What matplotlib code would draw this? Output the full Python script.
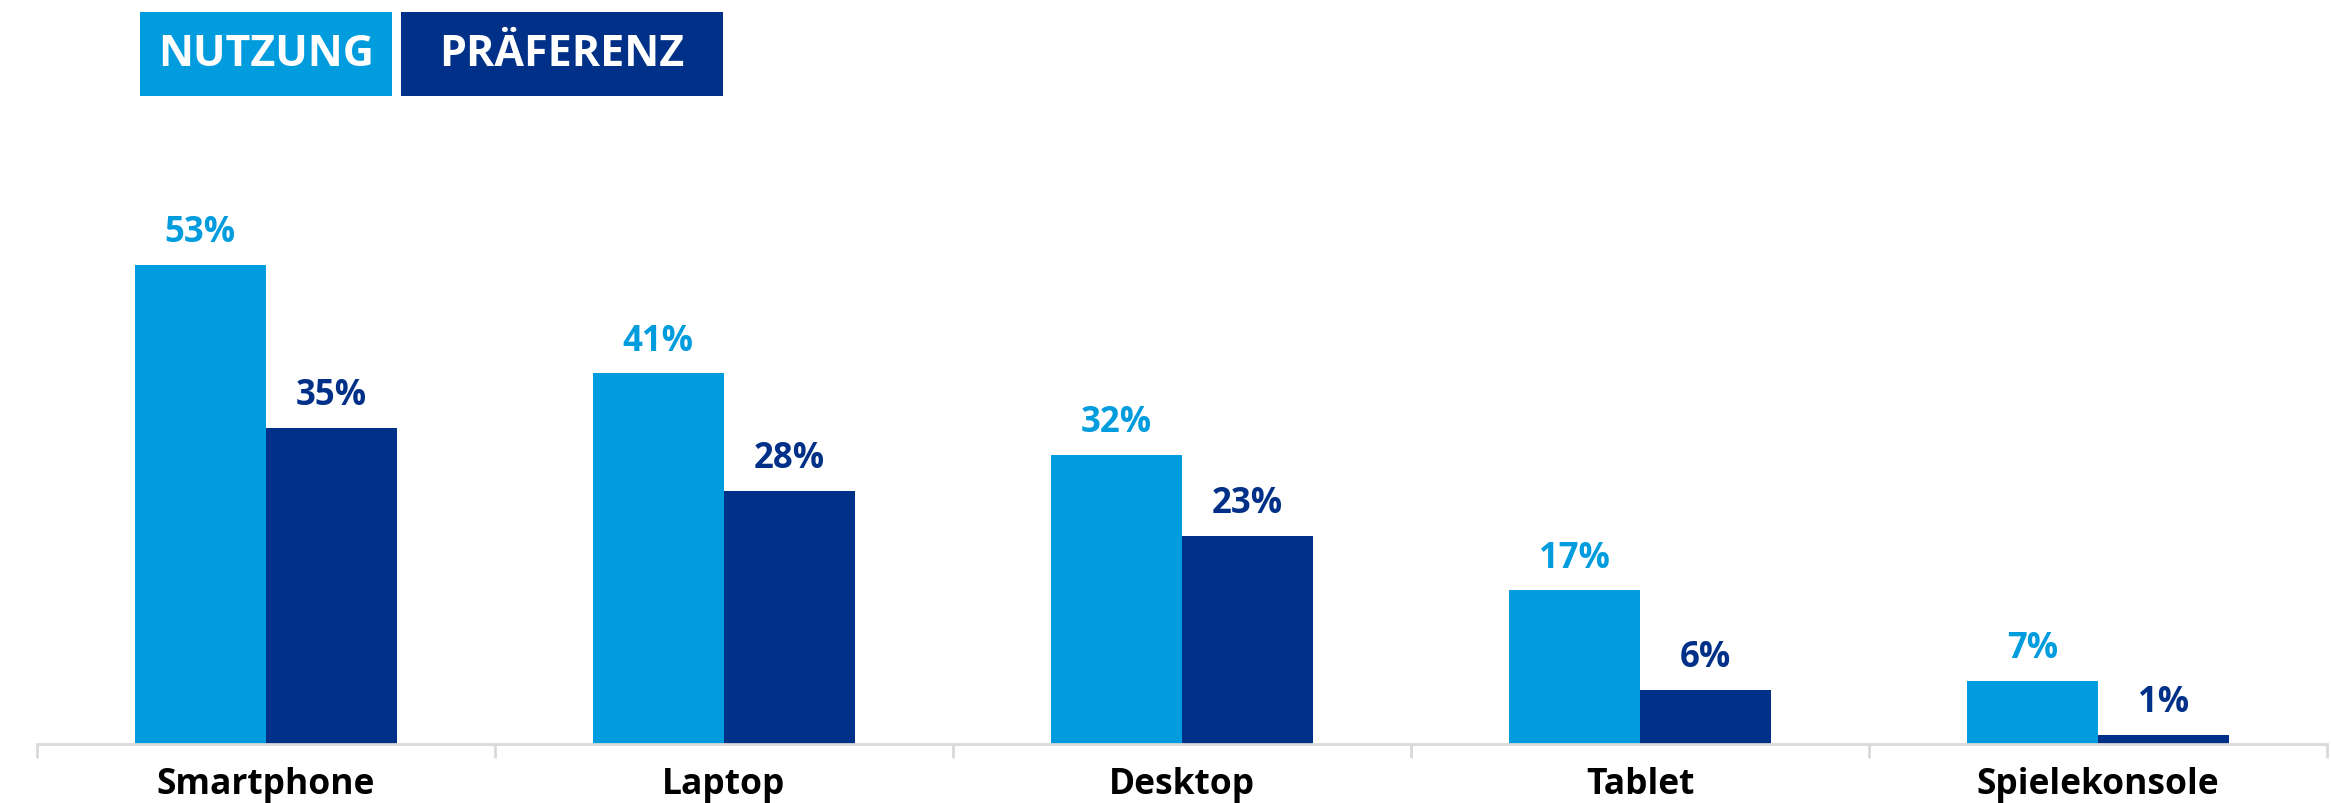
import matplotlib
matplotlib.use("Agg")
import matplotlib.pyplot as plt
from matplotlib.patches import Rectangle
import numpy as np

# Data
categories = ["Smartphone", "Laptop", "Desktop", "Tablet", "Spielekonsole"]
nutzung = [53, 41, 32, 17, 7]
praeferenz = [35, 28, 23, 6, 1]
series_names = ["NUTZUNG", "PRÄFERENZ"]

LIGHT = "#009cde"
DARK = "#003087"
AXIS_GREY = "#d9d9d9"
FONT = ["Open Sans", "DejaVu Sans"]

W, H, DPI = 2331, 804, 100
fig = plt.figure(figsize=(W / DPI, H / DPI), dpi=DPI)
ax = fig.add_axes([37 / W, (H - 745) / H, (2327 - 37) / W, 537 / H])

x = np.arange(len(categories))
bw = 0.287
bars1 = ax.bar(x - bw / 2, nutzung, width=bw, color=LIGHT, linewidth=0)
bars2 = ax.bar(x + bw / 2, praeferenz, width=bw, color=DARK, linewidth=0)

for bars, vals, col in ((bars1, nutzung, LIGHT), (bars2, praeferenz, DARK)):
    for b, v in zip(bars, vals):
        ax.annotate(f"{v}%", (b.get_x() + b.get_width() / 2, v),
                    xytext=(0, 10.5), textcoords="offset points",
                    ha="center", va="bottom", color=col,
                    fontsize=25, fontweight="bold", family=FONT)

ax.set_xlim(-0.5, len(categories) - 0.5)
ax.set_ylim(0, 59.4)
for s in ("top", "right", "left"):
    ax.spines[s].set_visible(False)
ax.spines["bottom"].set_color(AXIS_GREY)
ax.spines["bottom"].set_linewidth(2)
ax.set_yticks([])
ax.set_xticks(x)
ax.set_xticklabels(categories, fontsize=25.5, fontweight="bold", family=FONT)
ax.tick_params(axis="x", which="major", length=0, pad=16)
ax.set_xticks(np.arange(-0.5, len(categories)), minor=True)
ax.tick_params(axis="x", which="minor", length=10, width=2, color=AXIS_GREY)

# Legend boxes at the top left
boxes = [(140, 392, LIGHT), (401, 723, DARK)]
for (x0, x1, col), name in zip(boxes, series_names):
    y0, y1 = 13, 97
    fig.add_artist(Rectangle((x0 / W, 1 - y1 / H), (x1 - x0) / W, (y1 - y0) / H,
                             transform=fig.transFigure, color=col, linewidth=0))
    fig.text((x0 + x1) / 2 / W, 1 - (y0 + y1) / 2 / H, name, color="white",
             ha="center", va="center", fontsize=31, fontweight="bold", family=FONT)

fig.savefig("out.png", dpi=DPI, facecolor="white")
